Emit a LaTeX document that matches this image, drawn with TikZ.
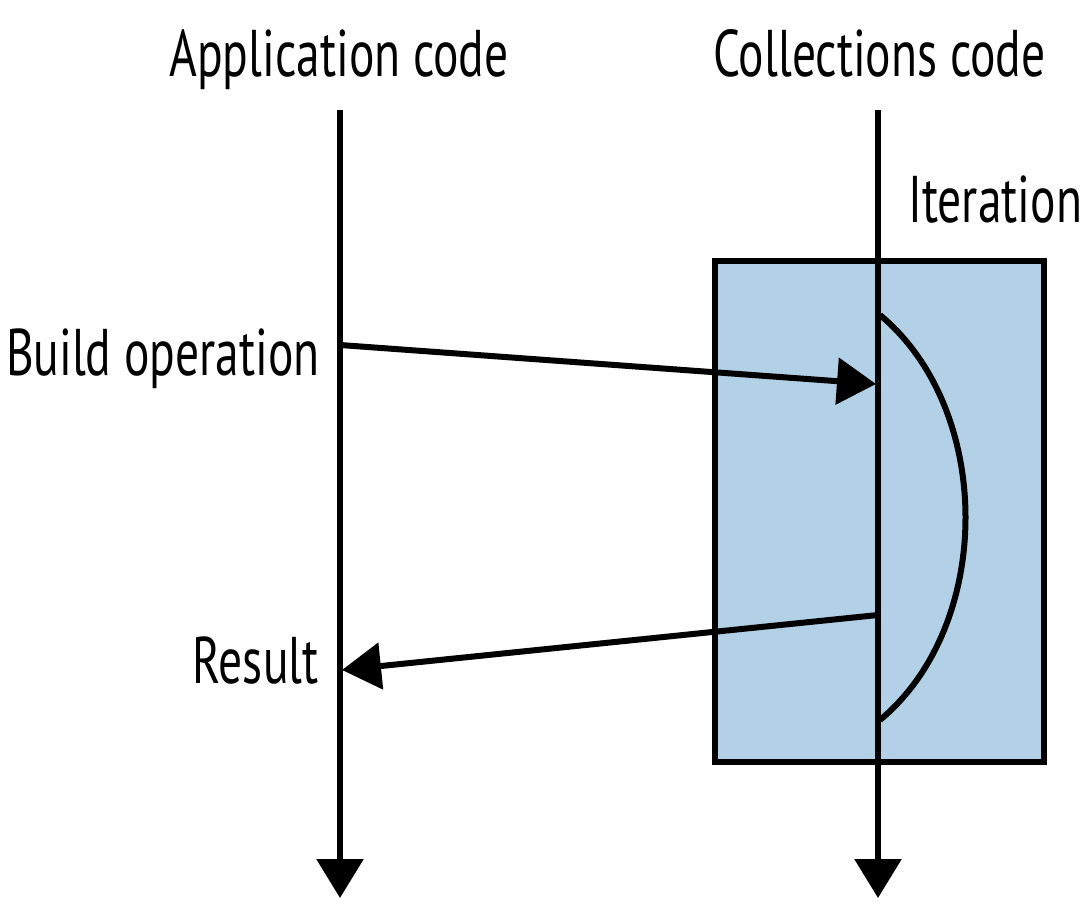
\documentclass[tikz,border=0pt]{standalone}
\usepackage{fontspec}
\setmainfont{PT Sans}[FakeStretch=0.72]
\usetikzlibrary{arrows.meta}
\definecolor{boxblue}{RGB}{179,209,230}
\begin{document}
\begin{tikzpicture}[x=0.5pt,y=-0.5pt,
  lbl/.style={font=\fontsize{33}{38}\selectfont, inner sep=0pt},
  flow/.style={line width=3pt, -{Triangle[length=19.5pt,width=23pt]}},
  plain/.style={line width=3pt}]
\useasboundingbox (0,0) rectangle (1082,920);
% box
\node[draw=black, line width=3pt, fill=boxblue, minimum width=164.5pt, minimum height=250.5pt, inner sep=0pt] (iterbox) at (879.5,511.5) {};
% timelines
\coordinate (atop) at (340,110);
\coordinate (abot) at (340,898);
\coordinate (ctop) at (878,110);
\coordinate (cbot) at (878,898);
\draw[flow] (atop) -- (abot);
\draw[flow] (ctop) -- (cbot);
% labels
\node[lbl, anchor=base] (applbl) at (339,77) {Application code};
\node[lbl, anchor=base] (collbl) at (879.5,77) {Collections code};
\node[lbl, anchor=base west] (iterlbl) at (908,222) {Iteration};
\node[lbl, anchor=base east] (buildlbl) at (320,375) {Build operation};
\node[lbl, anchor=base east] (reslbl) at (319,683) {Result};
% iteration arc
\coordinate (arcs) at (880,315);
\coordinate (arce) at (880,720);
\draw[plain] (arcs) .. controls (994,410) and (994,625) .. (arce);
% arrows
\coordinate (bstart) at (340,345);
\coordinate (btip) at (876,384);
\coordinate (rstart) at (878,615);
\coordinate (rtip) at (342,670);
\draw[flow] (bstart) -- (btip);
\draw[flow] (rstart) -- (rtip);
\end{tikzpicture}
\end{document}
